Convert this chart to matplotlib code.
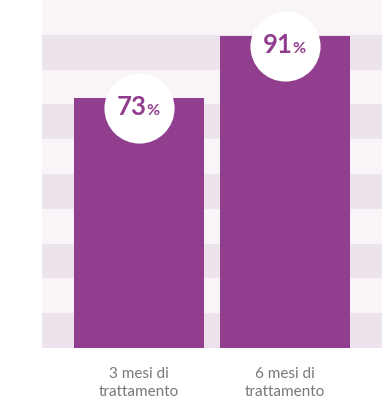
import numpy as np
import matplotlib
matplotlib.use('Agg')
import matplotlib.pyplot as plt
from matplotlib.transforms import offset_copy

# --- data ---
categories = ['3 mesi di\ntrattamento', '6 mesi di\ntrattamento']
values = [73, 91]

purple = '#923e8f'
stripe_light = '#f9f4f8'
stripe_dark = '#ede3ed'
label_gray = '#787878'

fig = plt.figure(figsize=(3.82, 4.15), dpi=100)
ax = fig.add_axes([42 / 382, 67 / 415, 340 / 382, 348 / 415])

ymax = 101.5
edges = np.linspace(0, ymax, 11)
for i in range(10):
    color = stripe_dark if i % 2 == 0 else stripe_light
    ax.axhspan(edges[i], edges[i + 1], color=color, lw=0, zorder=0)

x = np.arange(len(values))
ax.bar(x, values, width=0.89, color=purple, zorder=2)

ax.set_xlim(-0.664, 1.664)
ax.set_ylim(0, ymax)
for s in ax.spines.values():
    s.set_visible(False)
ax.set_yticks([])
ax.set_xticks(x)
ax.set_xticklabels(categories, fontsize=11, color=label_gray, family='Lato',
                   linespacing=1.3)
ax.tick_params(axis='x', length=0, pad=14)

# --- value badges ---
circ_tr = offset_copy(ax.transData, fig=fig, y=-10, units='dots')
num_tr = offset_copy(ax.transData, fig=fig, x=8, y=-17, units='dots')
pct_tr = offset_copy(ax.transData, fig=fig, x=7, y=-17, units='dots')
for xi, v in zip(x, values):
    ax.plot(xi, v, 'o', ms=50.5, color='white', mec='none', transform=circ_tr,
            zorder=3, clip_on=False)
    ax.text(xi, v, str(v), transform=num_tr, ha='right', va='baseline',
            fontsize=18.5, fontweight='bold', color=purple, family='Lato', zorder=4)
    ax.text(xi, v, '%', transform=pct_tr, ha='left', va='baseline',
            fontsize=11.5, fontweight='bold', color=purple, family='Lato', zorder=4)

fig.savefig('out.png', dpi=100)
